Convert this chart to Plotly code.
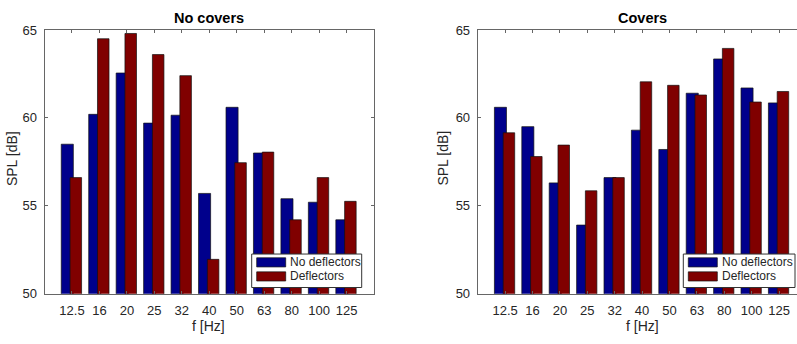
import plotly.graph_objects as go

# ---- data ----
freqs = ["12.5", "16", "20", "25", "32", "40", "50", "63", "80", "100", "125"]
series_names = ["No deflectors", "Deflectors"]
nocov_nodefl = [58.5, 60.2, 62.55, 59.7, 60.15, 55.7, 60.6, 58.0, 55.4, 55.2, 54.2]
nocov_defl = [56.6, 64.5, 64.8, 63.6, 62.4, 51.95, 57.45, 58.05, 54.2, 56.6, 55.25]
cov_nodefl = [60.6, 59.5, 56.3, 53.9, 56.6, 59.3, 58.2, 61.4, 63.35, 61.7, 60.85]
cov_defl = [59.15, 57.8, 58.45, 55.85, 56.6, 62.05, 61.85, 61.3, 63.95, 60.9, 61.5]
panel_titles = ["No covers", "Covers"]
y_ticks = [50, 55, 60, 65]

W, H = 797, 344
BLUE = "rgb(0,0,140)"
RED = "rgb(128,0,0)"
FONT = "Liberation Sans, Arial, Helvetica, sans-serif"
TXT = "#262626"
AX = "#666666"

def px(x):
    return x / W

def py(y):
    return 1 - y / H

xpos = list(range(1, len(freqs) + 1))

fig = go.Figure()
panels = [
    (nocov_nodefl, nocov_defl, "x", "y"),
    (cov_nodefl, cov_defl, "x2", "y2"),
]
for (b, r, xa, ya) in panels:
    fig.add_trace(go.Bar(x=xpos, y=b, xaxis=xa, yaxis=ya, offset=-0.39, width=0.44,
                         marker=dict(color=BLUE, line=dict(color="#111111", width=0.7)),
                         name=series_names[0], showlegend=False))
    fig.add_trace(go.Bar(x=xpos, y=r, xaxis=xa, yaxis=ya, offset=-0.07, width=0.42,
                         marker=dict(color=RED, line=dict(color="#111111", width=0.7)),
                         name=series_names[1], showlegend=False))

# panel geometry in pixels
left = dict(x0=44.5, x1=374.0)
right = dict(x0=477.7, x1=797.0)
ytop, ybot = 24.0, 299.7
spacing = 27.4
right_range_end = (right["x1"] - right["x0"]) / spacing

common_x = dict(tickmode="array", tickvals=xpos, ticktext=freqs, ticks="inside", ticklen=3,
                tickcolor=AX, showline=True, linecolor=AX, linewidth=1, showgrid=False,
                zeroline=False, tickfont=dict(family=FONT, size=13, color=TXT),
                ticklabelstandoff=5)
common_y = dict(range=[50, 65], tickvals=y_ticks, ticks="inside", ticklen=3, tickcolor=AX,
                showline=True, linecolor=AX, linewidth=1, showgrid=False, zeroline=False,
                tickfont=dict(family=FONT, size=13, color=TXT), ticklabelstandoff=4)

fig.update_layout(
    width=W, height=H, margin=dict(l=0, r=0, t=0, b=0),
    paper_bgcolor="white", plot_bgcolor="white", barmode="overlay", showlegend=False,
    xaxis=dict(domain=[px(left["x0"]), px(left["x1"])], range=[0, 12], anchor="y",
               mirror="allticks", **common_x),
    yaxis=dict(domain=[py(ybot), py(ytop)], anchor="x", mirror="allticks", **common_y),
    xaxis2=dict(domain=[px(right["x0"]), 1.0], range=[0, right_range_end], anchor="y2",
                mirror="allticks", **common_x),
    yaxis2=dict(domain=[py(ybot), py(ytop)], anchor="x2", mirror=False, **common_y),
)

ann = []
shapes = []
for i, (p, t) in enumerate(zip([left, right], panel_titles)):
    full_x1 = p["x0"] + 12 * spacing
    cx = (p["x0"] + full_x1) / 2
    ann.append(dict(text="<b>%s</b>" % t, x=px(cx), y=py(12), xref="paper", yref="paper",
                    showarrow=False, xanchor="center", yanchor="middle",
                    font=dict(family=FONT, size=14.5, color="black")))
    ann.append(dict(text="f [Hz]", x=px(cx), y=py(334), xref="paper", yref="paper",
                    showarrow=False, xanchor="center", yanchor="middle",
                    font=dict(family=FONT, size=14, color=TXT)))
    ylab_x = 11.5 if i == 0 else 443
    ann.append(dict(text="SPL [dB]", x=px(ylab_x), y=py(158.5), xref="paper",
                    yref="paper", showarrow=False, textangle=-90, xanchor="center",
                    yanchor="middle", font=dict(family=FONT, size=14, color=TXT)))

# legends (one per panel)
legend_boxes = [(251.7, 361.7, 256.7), (683.3, 795.0, 688.3)]
for (bx0, bx1, sx0) in legend_boxes:
    shapes.append(dict(type="rect", xref="paper", yref="paper", x0=px(bx0), x1=px(bx1),
                       y0=py(293.3), y1=py(258.3), fillcolor="white",
                       line=dict(color="#333333", width=1)))
    for k, (col, name) in enumerate(zip([BLUE, RED], series_names)):
        yc = 267 + 14.7 * k
        shapes.append(dict(type="rect", xref="paper", yref="paper", x0=px(sx0), x1=px(sx0 + 29),
                           y0=py(yc + 4.8), y1=py(yc - 4.8), fillcolor=col,
                           line=dict(color="#111111", width=0.7)))
        ann.append(dict(text=name, x=px(sx0 + 31.5), y=py(yc), xref="paper", yref="paper",
                        showarrow=False, xanchor="left", yanchor="middle",
                        font=dict(family=FONT, size=12, color=TXT)))

fig.update_layout(annotations=ann, shapes=shapes)
fig.write_html("out.html")
